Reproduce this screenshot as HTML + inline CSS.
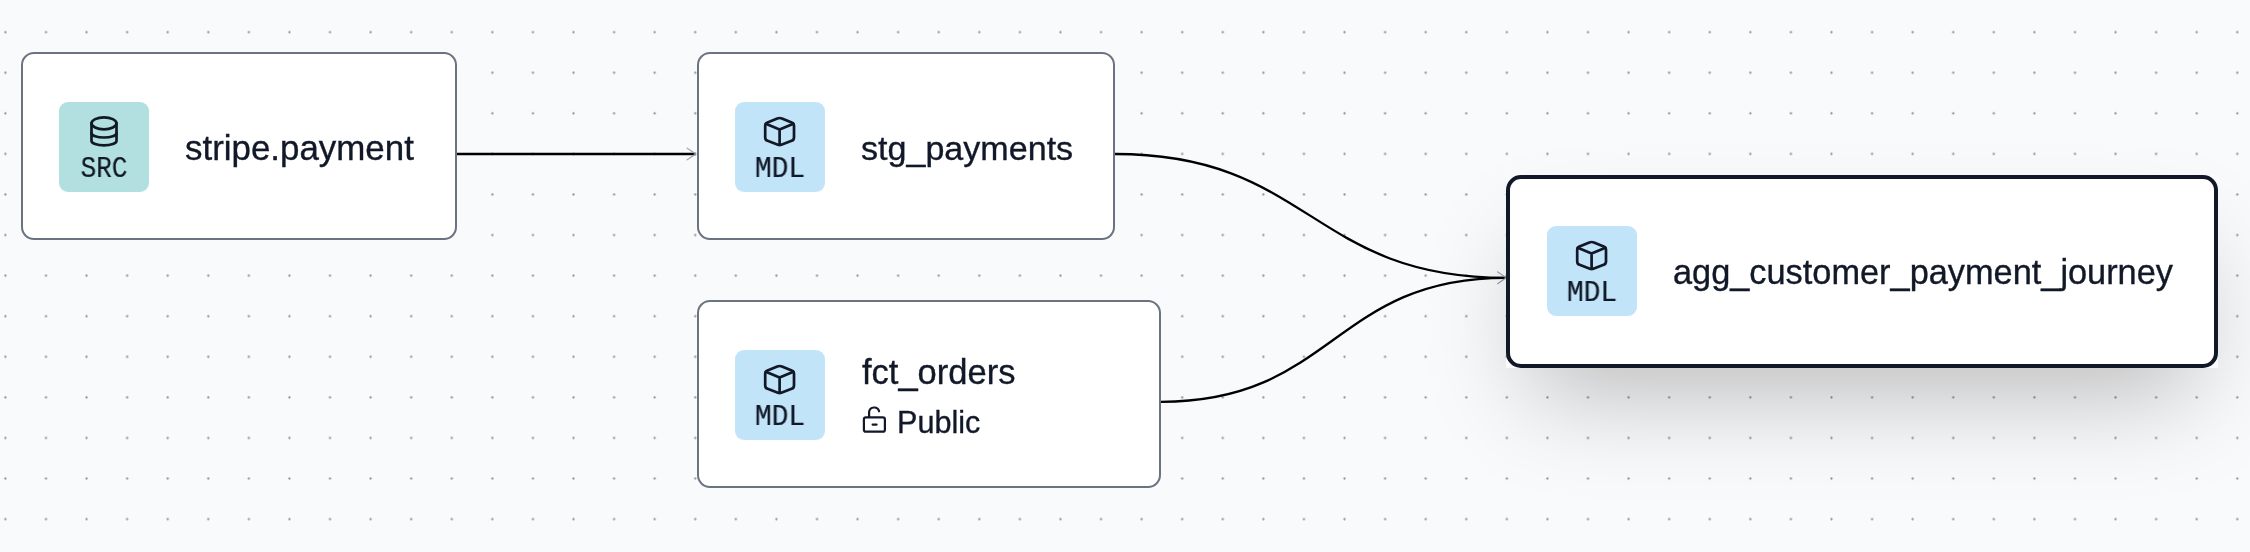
<!DOCTYPE html>
<html><head><meta charset="utf-8">
<style>
html,body{margin:0;padding:0;}
body{width:2250px;height:552px;overflow:hidden;position:relative;background:#f9fafb;font-family:"Liberation Sans",sans-serif;color:#111827;}
svg.bg{position:absolute;left:0;top:0;}
.node{position:absolute;box-sizing:border-box;background:#fff;border:2px solid #6b7280;border-radius:13px;}
.wrap{position:absolute;}
.icon{position:absolute;width:90px;height:90px;border-radius:9px;background:#c2e4f8;}
.icon.src{background:#b2dfe0;}
.icon .lbl{position:absolute;left:0;width:90px;text-align:center;font-family:"Liberation Mono",monospace;font-size:30px;line-height:28px;top:52.6px;color:#111827;transform:scaleX(0.93);will-change:transform;-webkit-text-stroke:0.2px #111827;}
.icon.src .lbl{transform:scaleX(0.865);}
.icon svg{position:absolute;left:0;top:0;}
.title{position:absolute;font-size:34.5px;line-height:40px;white-space:nowrap;color:#111827;will-change:transform;-webkit-text-stroke:0.35px #111827;}
</style></head>
<body>
<svg class="bg" width="2250" height="552">
  <defs>
    <pattern id="dots" x="-14.89" y="11.91" width="40.58" height="40.58" patternUnits="userSpaceOnUse">
      <circle cx="20.29" cy="20.29" r="1.15" fill="#8a909c"/>
    </pattern>
  </defs>
  <rect width="2250" height="552" fill="url(#dots)"/>
</svg>

<!-- edges -->
<svg class="bg" width="2250" height="552" style="z-index:1">
  <g fill="none" stroke="#000" stroke-width="2.3">
    <path d="M457 154 L695.5 154"/>
    <path d="M1115 154 C1310.5 154 1310.5 277.8 1506 277.8"/>
    <path d="M1161 401.8 C1333.5 401.8 1333.5 277.8 1506 277.8"/>
  </g>
  <g fill="none" stroke="#939aa6" stroke-width="1.15" stroke-linecap="round" stroke-linejoin="round">
    <path d="M687.1 148.1 L695.7 154 L687.1 159.9"/>
    <path d="M1497.6 271.9 L1506.2 277.8 L1497.6 283.7"/>
  </g>
</svg>

<!-- node 1 -->
<div class="node" style="left:20.9px;top:52.3px;width:436.6px;height:188px;z-index:2"></div>
<div class="icon src" style="left:59px;top:102px;z-index:3">
  <svg width="90" height="90" viewBox="59 102 90 90" fill="none" stroke="#111827" stroke-width="2.7" stroke-linecap="round" stroke-linejoin="round">
    <ellipse cx="104" cy="123.35" rx="12.5" ry="5.95"/>
    <path d="M91.5 123.35 V141 A12.5 4.3 0 0 0 116.5 141 V123.35"/>
    <path d="M91.5 133.2 A12.5 4.3 0 0 0 116.5 133.2"/>
  </svg>
  <div class="lbl">SRC</div>
</div>
<div class="title" style="left:185px;top:128px;z-index:3;font-size:34.9px">stripe.payment</div>

<!-- node 2 -->
<div class="node" style="left:696.7px;top:52.3px;width:418.6px;height:188px;z-index:2"></div>
<div class="icon" style="left:735px;top:102px;z-index:3">
  <svg width="90" height="90" viewBox="735 102 90 90" fill="none" stroke="#111827" stroke-width="2.7" stroke-linecap="round" stroke-linejoin="round">
    <path d="M781.91 118.46 L791.69 122.54 Q794.00 123.50 794.00 126.00 L794.00 137.40 Q794.00 139.90 791.66 140.79 L781.94 144.51 Q779.60 145.40 777.26 144.51 L767.54 140.79 Q765.20 139.90 765.20 137.40 L765.20 126.00 Q765.20 123.50 767.51 122.54 L777.29 118.46 Q779.60 117.50 781.91 118.46 Z"/>
    <path d="M765.8 123.8 L779.6 129.4 L793.4 123.8 M779.6 129.4 V145"/>
  </svg>
  <div class="lbl">MDL</div>
</div>
<div class="title" style="left:861px;top:128px;z-index:3;font-size:34.1px">stg_payments</div>

<!-- node 3 -->
<div class="node" style="left:696.7px;top:300.4px;width:464.7px;height:187.5px;z-index:2"></div>
<div class="icon" style="left:735px;top:350px;z-index:3">
  <svg width="90" height="90" viewBox="735 102 90 90" fill="none" stroke="#111827" stroke-width="2.7" stroke-linecap="round" stroke-linejoin="round">
    <path d="M781.91 118.46 L791.69 122.54 Q794.00 123.50 794.00 126.00 L794.00 137.40 Q794.00 139.90 791.66 140.79 L781.94 144.51 Q779.60 145.40 777.26 144.51 L767.54 140.79 Q765.20 139.90 765.20 137.40 L765.20 126.00 Q765.20 123.50 767.51 122.54 L777.29 118.46 Q779.60 117.50 781.91 118.46 Z"/>
    <path d="M765.8 123.8 L779.6 129.4 L793.4 123.8 M779.6 129.4 V145"/>
  </svg>
  <div class="lbl">MDL</div>
</div>
<div class="title" style="left:862px;top:352px;z-index:3">fct_orders</div>
<svg style="position:absolute;left:0;top:0;z-index:3" width="2250" height="552" fill="none" stroke="#111827" stroke-width="2.2" stroke-linecap="round" stroke-linejoin="round">
  <rect x="863.9" y="417.3" width="21" height="14.4" rx="2"/>
  <path d="M869.1 417 V412 A5.1 5.1 0 0 1 879.1 411.3"/>
  <path d="M872.6 424.6 H876.6"/>
</svg>
<div class="title" style="left:896.5px;top:402.1px;z-index:3;font-size:30.6px">Public</div>

<!-- node 4 -->
<div class="wrap" style="left:1506.3px;top:174.8px;width:711.5px;height:193.5px;z-index:2;box-shadow:0 50px 100px -24px rgba(0,0,0,0.25)"></div>
<div class="node" style="left:1506.3px;top:174.8px;width:711.5px;height:193.5px;z-index:2;border:4.8px solid #111827;border-radius:15px"></div>
<div class="icon" style="left:1547px;top:226px;z-index:3">
  <svg width="90" height="90" viewBox="735 102 90 90" fill="none" stroke="#111827" stroke-width="2.7" stroke-linecap="round" stroke-linejoin="round">
    <path d="M781.91 118.46 L791.69 122.54 Q794.00 123.50 794.00 126.00 L794.00 137.40 Q794.00 139.90 791.66 140.79 L781.94 144.51 Q779.60 145.40 777.26 144.51 L767.54 140.79 Q765.20 139.90 765.20 137.40 L765.20 126.00 Q765.20 123.50 767.51 122.54 L777.29 118.46 Q779.60 117.50 781.91 118.46 Z"/>
    <path d="M765.8 123.8 L779.6 129.4 L793.4 123.8 M779.6 129.4 V145"/>
  </svg>
  <div class="lbl">MDL</div>
</div>
<div class="title" style="left:1673px;top:252px;z-index:3;font-size:34.35px">agg_customer_payment_journey</div>

</body></html>
